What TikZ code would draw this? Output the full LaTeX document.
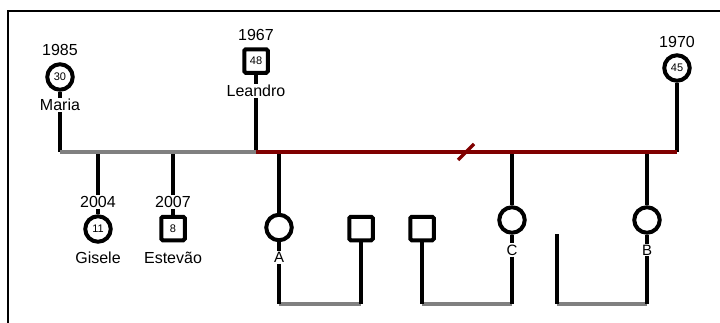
\documentclass[tikz,border=0pt]{standalone}
\usepackage{fontspec}
\setmainfont{Liberation Sans}
\definecolor{wedgray}{RGB}{128,128,128}
\definecolor{divred}{RGB}{128,0,0}
\begin{document}
\begin{tikzpicture}[x=1pt,y=-1pt,
  fem/.style={circle, draw, line width=4pt, minimum size=25.5pt, inner sep=0pt, font=\fontsize{11}{11}\selectfont},
  mal/.style={rectangle, draw, line width=4pt, minimum size=23.5pt, rounded corners=1.5pt, inner sep=0pt, font=\fontsize{11}{11}\selectfont},
  lbl/.style={font=\fontsize{16}{16}\selectfont, inner sep=1pt},
  sym/.style={font=\fontsize{15}{15}\selectfont, inner sep=1pt},
  kid/.style={line width=3.8pt},
  wed/.style={line width=4pt, draw=wedgray},
  div/.style={line width=4.5pt, draw=divred}]
\useasboundingbox (0,0) rectangle (720,322);
\draw[line width=2pt] (721,11) -- (8,11) -- (8,323);

% upper generation
\node[fem] (maria) at (60,77) {30};
\node[lbl] (maria-y) at (60,50) {1985};
\node[lbl] (maria-n) at (60,105) {Maria};
\node[mal] (leandro) at (256,61) {48};
\node[lbl] (leandro-y) at (256,35) {1967};
\node[lbl] (leandro-n) at (256,91) {Leandro};
\node[fem] (w1970) at (677,68) {45};
\node[lbl] (w1970-y) at (677,42) {1970};

\coordinate (mj) at (60,152);
\coordinate (lj) at (256,152);
\coordinate (rj) at (677,152);
\coordinate (gj) at (98,152);
\coordinate (ej) at (173,152);
\coordinate (aj) at (279,152);
\coordinate (cj) at (512,152);
\coordinate (bj) at (647,152);

% children
\node[lbl] (gisele-y) at (98,202) {2004};
\node[fem] (gisele) at (98,229) {11};
\node[lbl] (gisele-n) at (98,258) {Gisele};
\node[lbl] (est-y) at (173,202) {2007};
\node[mal] (est) at (173,228.5) {8};
\node[lbl] (est-n) at (173,258) {Estevão};

\node[fem] (a) at (279,227.5) {};
\node[sym] (a-n) at (279,257.5) {A};
\coordinate (a-b) at (279,304);
\node[mal] (s1) at (361,228.5) {};
\coordinate (s1-b) at (361,304);
\node[mal] (s2) at (422,228.5) {};
\coordinate (s2-b) at (422,304);
\node[fem] (c) at (512,220) {};
\node[sym] (c-n) at (512,250) {C};
\coordinate (c-b) at (512,304);
\coordinate (x-t) at (557,234);
\coordinate (x-b) at (557,304);
\node[fem] (b) at (647,220) {};
\node[sym] (b-n) at (647,250) {B};
\coordinate (b-b) at (647,304);

% lower unions
\draw[wed] (a-b) -- (s1-b);
\draw[wed] (s2-b) -- (c-b);
\draw[wed] (x-b) -- (b-b);

% descent lines
\draw[kid] (maria) -- (maria-n);
\draw[kid] (maria-n) -- (mj);
\draw[kid] (leandro) -- (leandro-n);
\draw[kid] (leandro-n) -- (lj);
\draw[kid] (w1970) -- (rj);
\draw[kid] (gj) -- (gisele-y);
\draw[kid] (gisele-y) -- (gisele);
\draw[kid] (ej) -- (est-y);
\draw[kid] (est-y) -- (est);
\draw[kid] (aj) -- (a);
\draw[kid] (a) -- (a-n);
\draw[kid] (a-n) -- (a-b);
\draw[kid] (s1) -- (s1-b);
\draw[kid] (s2) -- (s2-b);
\draw[kid] (cj) -- (c);
\draw[kid] (c) -- (c-n);
\draw[kid] (c-n) -- (c-b);
\draw[kid] (x-t) -- (x-b);
\draw[kid] (bj) -- (b);
\draw[kid] (b) -- (b-n);
\draw[kid] (b-n) -- (b-b);

% upper unions
\draw[wed] (mj) -- (lj);
\draw[div] (lj) -- (rj);
\coordinate (sl1) at (458,160);
\coordinate (sl2) at (474,144);
\draw[div, line width=3.5pt] (sl1) -- (sl2);
\end{tikzpicture}
\end{document}
